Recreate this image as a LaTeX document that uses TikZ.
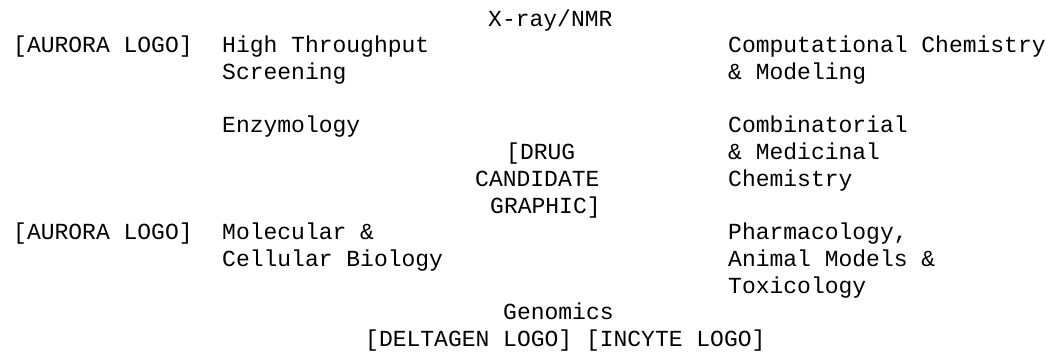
\documentclass[tikz,border=0pt]{standalone}
\usepackage{fontspec}
\setmonofont{Liberation Mono}

\tikzset{
    txt/.style={anchor=base west, inner sep=0pt,
        font=\ttfamily\fontsize{23}{26.7}\selectfont}
}

\begin{document}
\begin{tikzpicture}[x=1pt,y=-1pt]
    \useasboundingbox (0,0) rectangle (1054,363);

    % Top
    \node[txt] (xray) at (488,26.3) {X-ray/NMR};

    % Left column
    \node[txt] (logoA) at (13,53) {[AURORA LOGO]};
    \node[txt] (logoB) at (13,239.7) {[AURORA LOGO]};

    \node[txt] (hts) at (222,53) {High Throughput};
    \node[txt] (htsb) at (222,79.7) {Screening};
    \node[txt] (enzy) at (222,133) {Enzymology};
    \node[txt] (mcb) at (222,239.7) {Molecular \&};
    \node[txt] (mcbb) at (222,266.4) {Cellular Biology};

    % Drug candidate
    \node[txt] (drug) at (506,159.7) {[DRUG};
    \node[txt] (drugb) at (475,186.4) {CANDIDATE};
    \node[txt] (drugc) at (490,213.1) {GRAPHIC]};

    % Right column
    \node[txt] (comp) at (728,53) {Computational Chemistry};
    \node[txt] (compb) at (728,79.7) {\& Modeling};
    \node[txt] (comb) at (728,133) {Combinatorial};
    \node[txt] (combb) at (728,159.7) {\& Medicinal};
    \node[txt] (combc) at (728,186.4) {Chemistry};
    \node[txt] (pharm) at (728,239.7) {Pharmacology,};
    \node[txt] (pharmb) at (728,266.4) {Animal Models \&};
    \node[txt] (pharmc) at (728,293.1) {Toxicology};

    % Bottom
    \node[txt] (geno) at (503,319.8) {Genomics};
    \node[txt] (logos) at (365,346.5) {[DELTAGEN LOGO] [INCYTE LOGO]};
\end{tikzpicture}
\end{document}
